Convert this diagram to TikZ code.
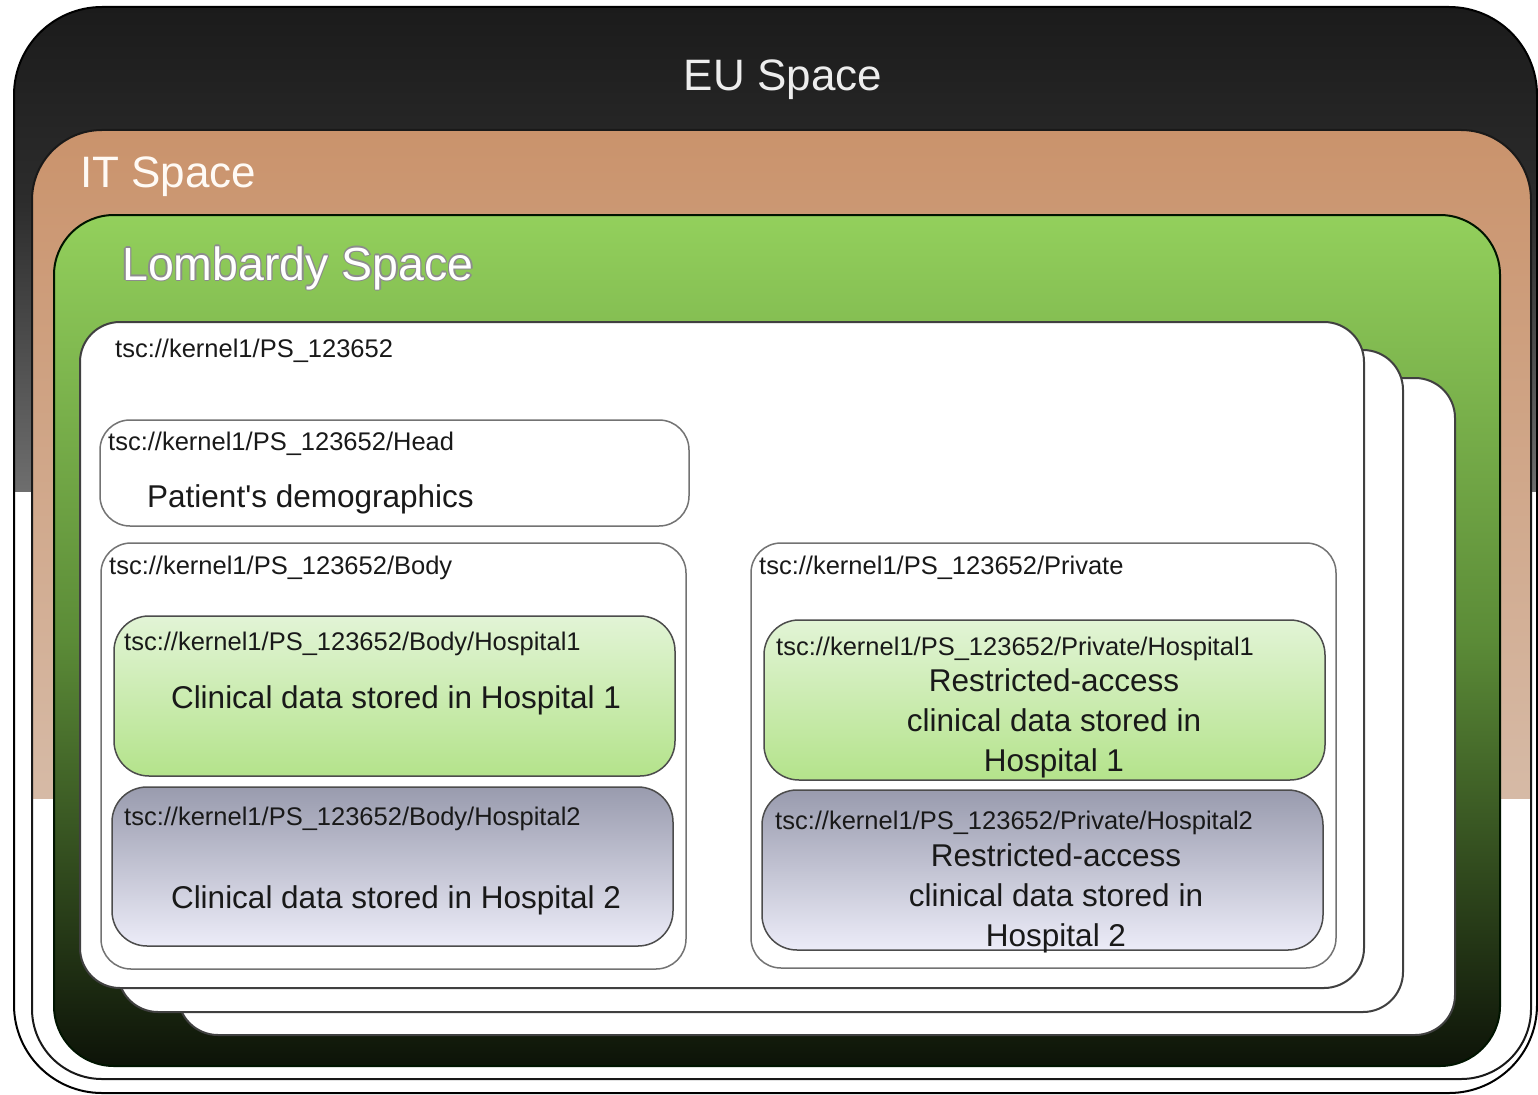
\documentclass[tikz,border=0pt]{standalone}
\usepackage{fontspec}
\setmainfont{Liberation Sans}
\newfontfamily\plainapos{Liberation Sans}
\definecolor{eutop}{HTML}{1B1B1B}
\definecolor{eumid}{HTML}{2C2C2C}
\definecolor{eubot}{HTML}{6E6E6E}
\definecolor{ittop}{HTML}{CA936C}
\definecolor{itbot}{HTML}{D6BAA6}
\definecolor{gtop}{HTML}{93D05C}
\definecolor{gmid}{HTML}{5B8B37}
\definecolor{gbot}{HTML}{0D1308}
\definecolor{h1top}{HTML}{E2F4D6}
\definecolor{h1bot}{HTML}{B4E38B}
\definecolor{h2top}{HTML}{999BAE}
\definecolor{h2bot}{HTML}{ECECF8}
\pgfdeclareverticalshading{eush}{100bp}{color(0bp)=(eubot); color(25bp)=(eubot); color(55bp)=(eumid); color(75bp)=(eutop); color(100bp)=(eutop)}
\pgfdeclareverticalshading{itsh}{100bp}{color(0bp)=(itbot); color(25bp)=(itbot); color(75bp)=(ittop); color(100bp)=(ittop)}
\pgfdeclareverticalshading{grsh}{100bp}{color(0bp)=(gbot); color(25bp)=(gbot); color(50bp)=(gmid); color(75bp)=(gtop); color(100bp)=(gtop)}
\tikzset{
  lbl/.style={anchor=west, inner sep=0pt, font=\fontsize{25.5}{30}\selectfont, text=black!90},
  maintxt/.style={inner sep=0pt, font=\fontsize{31.5}{40}\selectfont, align=center, text=black!90},
  card/.style={draw=black!75, line width=2pt, fill=white, rounded corners=40pt},
  part/.style={draw=black!55, line width=1.5pt, fill=white, rounded corners=30pt},
  hosp/.style={draw=black!70, line width=1.5pt, rounded corners=35pt},
  greenh/.style={hosp, top color=h1top, bottom color=h1bot},
  grayh/.style={hosp, top color=h2top, bottom color=h2bot},
  title/.style={inner sep=0pt, font=\fontsize{44}{50}\selectfont},
  ltitle/.style={inner sep=0pt, font=\fontsize{46.5}{52}\selectfont},
}
\begin{document}
\begin{tikzpicture}[x=1pt,y=-1pt]
\useasboundingbox[fill=white] (0,0) rectangle (1538,1094);
% EU space
\coordinate (eunw) at (14,7);
\coordinate (euse) at (1537,1093);
\fill[white, rounded corners=88pt] (eunw) rectangle (euse);
\begin{scope}
  \clip[rounded corners=88pt] (eunw) rectangle (euse);
  \clip (0,0) rectangle (1538,491);
  \shade[shading=eush] (0,7) rectangle (1538,491);
\end{scope}
\draw[black, line width=2pt, rounded corners=88pt] (eunw) rectangle (euse);
% IT space
\coordinate (itnw) at (32,130);
\coordinate (itse) at (1531,1079);
\fill[white, rounded corners=70pt] (itnw) rectangle (itse);
\begin{scope}
  \clip[rounded corners=70pt] (itnw) rectangle (itse);
  \clip (0,0) rectangle (1538,798);
  \shade[shading=itsh] (0,130) rectangle (1538,798);
\end{scope}
\draw[black!90, line width=2pt, rounded corners=70pt] (itnw) rectangle (itse);
% Lombardy space
\coordinate (lonw) at (54,215);
\coordinate (lose) at (1500,1066);
\shade[shading=grsh, rounded corners=60pt] (lonw) rectangle (lose);
\draw[black!80!green!40!black, line width=2pt, rounded corners=60pt] (lonw) rectangle (lose);
% titles
\node[title, text=white!93!black] (eut) at (783,80) {EU Space};
\node[title, text=white!96!orange, anchor=west] (itt) at (80,177) {IT Space};
\foreach \dx/\dy [count=\i] in {1.3/0,-1.3/0,0/1.3,0/-1.3,0.9/0.9,-0.9/0.9,0.9/-0.9,-0.9/-0.9}
  \node[ltitle, text=black!45, anchor=west] (lombo\i) at ({122+\dx},{268+\dy}) {Lombardy Space};
\node[ltitle, text=white, anchor=west] (lombt) at (122,268) {Lombardy Space};
% stacked cards
\node[card, minimum width=1277pt, minimum height=657pt] (card3) at (816.5,706.5) {};
\node[card, minimum width=1285pt, minimum height=662pt] (card2) at (760.5,681) {};
\node[card, minimum width=1284pt, minimum height=666pt] (card1) at (722,655) {};
\node[lbl] (cardl) at (115,351) {tsc://kernel1/PS\_123652};
% head
\node[part, minimum width=589pt, minimum height=106pt] (head) at (394.5,473) {};
\node[lbl] (headl) at (108,444) {tsc://kernel1/PS\_123652/Head};
\node[maintxt, anchor=west] (headt) at (147,499) {Patient{\plainapos'}s demographics};
% body
\node[part, minimum width=585pt, minimum height=426pt] (body) at (393.5,756) {};
\node[lbl] (bodyl) at (109,568) {tsc://kernel1/PS\_123652/Body};
\node[greenh, minimum width=561pt, minimum height=160pt] (bh1) at (394.5,696) {};
\node[lbl] (bh1l) at (124,644) {tsc://kernel1/PS\_123652/Body/Hospital1};
\node[maintxt] (bh1t) at (396,700) {Clinical data stored in Hospital 1};
\node[grayh, minimum width=561pt, minimum height=159pt] (bh2) at (392.5,866.5) {};
\node[lbl] (bh2l) at (124,819) {tsc://kernel1/PS\_123652/Body/Hospital2};
\node[maintxt] (bh2t) at (396,900) {Clinical data stored in Hospital 2};
% private
\node[part, minimum width=585pt, minimum height=425pt] (priv) at (1043.5,755.5) {};
\node[lbl] (privl) at (759,568) {tsc://kernel1/PS\_123652/Private};
\node[greenh, minimum width=561pt, minimum height=160pt] (ph1) at (1044.5,700) {};
\node[lbl] (ph1l) at (776,649) {tsc://kernel1/PS\_123652/Private/Hospital1};
\node[maintxt] (ph1t) at (1054,723) {Restricted-access\\clinical data stored in\\Hospital 1};
\node[grayh, minimum width=561pt, minimum height=160pt] (ph2) at (1042.5,870) {};
\node[lbl] (ph2l) at (775,823) {tsc://kernel1/PS\_123652/Private/Hospital2};
\node[maintxt] (ph2t) at (1056,898) {Restricted-access\\clinical data stored in\\Hospital 2};
\end{tikzpicture}
\end{document}
